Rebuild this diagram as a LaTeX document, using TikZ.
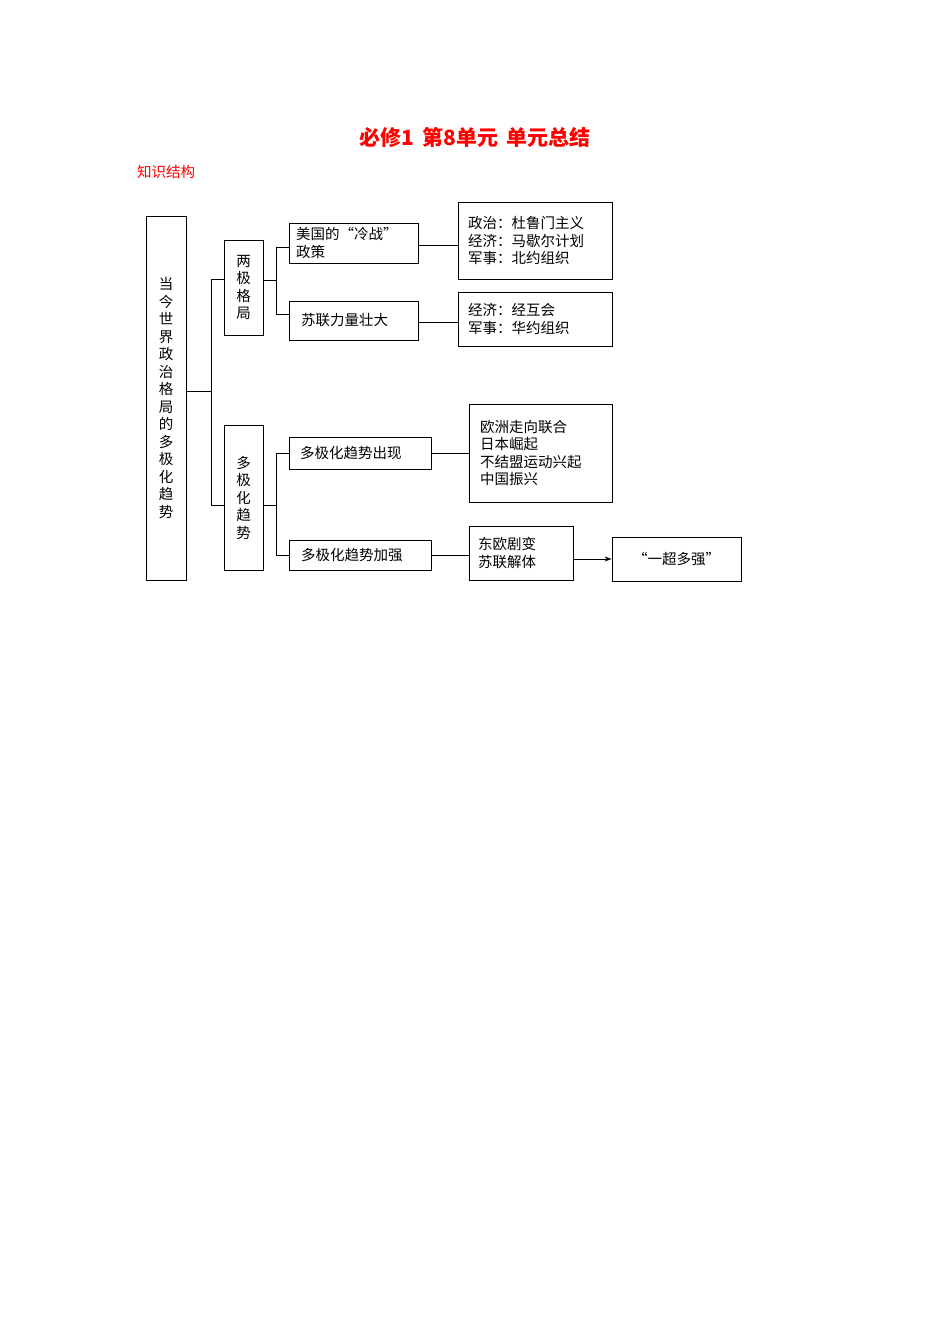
\documentclass[tikz,border=0pt]{standalone}
\usepackage{fontspec}
\setmainfont{Noto Sans CJK SC}
\usetikzlibrary{arrows.meta}
\begin{document}
\begin{tikzpicture}[x=1pt,y=-1pt,
  bx/.style={draw,line width=0.8pt,inner sep=0pt,font=\fontsize{14.5}{17.5}\selectfont},
  ln/.style={line width=0.8pt}]
\useasboundingbox (0,0) rectangle (950,1344);
\node[red,font=\bfseries\fontsize{21}{24}\selectfont] (title) at (475,137) {必修1\, 第8单元\, 单元总结};
\node[red,anchor=west,font=\fontsize{14.5}{17}\selectfont,inner sep=0pt] (sub) at (137,172) {知识结构};
% boxes: center, width, height
\newcommand\mybox[6]{\node[bx,minimum width=#3,minimum height=#4,text width=#3-2*#6,align=left] (#1) at (#2) {#5};}
\node[bx,minimum width=40,minimum height=364,align=center] (main) at (166,398) {当\\今\\世\\界\\政\\治\\格\\局\\的\\多\\极\\化\\趋\\势};
\node[bx,minimum width=39,minimum height=95,align=center] (lj) at (243.5,287.5) {两\\极\\格\\局};
\node[bx,minimum width=39,minimum height=145,align=center] (dj) at (243.5,497.5) {多\\极\\化\\趋\\势};
\mybox{us}{353.5,243}{129}{40}{美国的“冷战”\\政策}{7}
\mybox{su}{353.5,320.5}{129}{39}{苏联力量壮大}{12}
\mybox{r1}{535,240.5}{154}{77}{政治：杜鲁门主义\\经济：马歇尔计划\\军事：北约组织}{10}
\mybox{r2}{535,319}{154}{54}{经济：经互会\\军事：华约组织}{10}
\mybox{cx}{360,453}{142}{32}{多极化趋势出现}{11}
\mybox{jq}{360,555}{142}{30}{多极化趋势加强}{12}
\mybox{r3}{540.5,453}{143}{98}{欧洲走向联合\\日本崛起\\不结盟运动兴起\\中国振兴}{11}
\mybox{dy}{521,553}{104}{54}{东欧剧变\\苏联解体}{9}
\node[bx,minimum width=129,minimum height=44] (yc) at (676.5,559) {“一超多强”};
% connectors
\coordinate (a1) at (211,391);
\coordinate (a2) at (211,279);
\coordinate (a3) at (211,505);
\draw[ln] (main.east|-a1) -- (a1);
\draw[ln] (lj.west|-a2) -- (a2) -- (a3) -- (dj.west|-a3);
\coordinate (b1) at (276,280);
\coordinate (b2) at (276,247);
\coordinate (b3) at (276,314);
\draw[ln] (lj.east|-b1) -- (b1);
\draw[ln] (us.west|-b2) -- (b2) -- (b3) -- (su.west|-b3);
\coordinate (c1) at (276,505);
\coordinate (c2) at (276,453);
\coordinate (c3) at (276,555);
\draw[ln] (dj.east|-c1) -- (c1);
\draw[ln] (cx.west|-c2) -- (c2) -- (c3) -- (jq.west|-c3);
\draw[ln] (us.east|-0,245) -- (r1.west|-0,245);
\draw[ln] (su.east|-0,322) -- (r2.west|-0,322);
\draw[ln] (cx.east) -- (r3.west|-cx.east);
\draw[ln] (jq.east) -- (dy.west|-jq.east);
\draw[ln,-{Stealth[length=7pt,width=5pt]}] (dy.east|-0,559) -- (yc.west);
\end{tikzpicture}
\end{document}
